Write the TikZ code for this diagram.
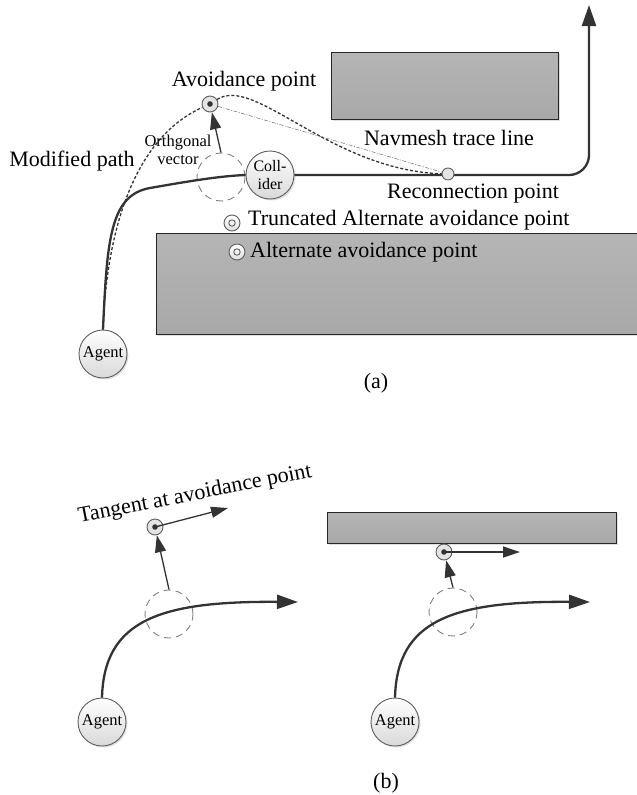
\documentclass[tikz,border=0pt]{standalone}
\usepackage{fontspec}
\setmainfont{Liberation Serif}
\usetikzlibrary{arrows.meta,shadows}
\definecolor{cline}{HTML}{333333}
\definecolor{cedge}{HTML}{5E5E5E}
\definecolor{cring}{HTML}{E4E4E4}
\newcommand{\fnbig}{\fontsize{22}{24}\selectfont}
\newcommand{\fnsmall}{\fontsize{16.5}{18}\selectfont}

\begin{document}
\begin{tikzpicture}[x=1pt, y=-1pt,
  route/.style  = {line width=2.3pt, draw=cline},
  tip/.style    = {-{Triangle[length=21pt, width=14pt]}},
  arr/.style    = {-{Triangle[length=17pt, width=11pt]}, line width=1.3pt, draw=cline},
  mod/.style    = {line width=1.3pt, draw=cline, dash pattern=on 3pt off 2pt},
  trace/.style  = {line width=0.5pt, draw=gray!80!black,
                   dash pattern=on 4pt off 1.5pt on 1pt off 1.5pt},
  ball/.style   = {circle, minimum size=48pt, inner sep=0pt, draw=cedge, line width=0.9pt,
                   top color=white, bottom color=gray!30, font=\fnsmall, align=center,
                   drop shadow={opacity=0.25, shadow xshift=1.5pt, shadow yshift=-1.5pt}},
  ghost/.style  = {circle, minimum size=48pt, inner sep=0pt, draw=gray, line width=0.9pt,
                   dash pattern=on 7pt off 5pt},
  avoid/.style  = {circle, minimum size=16pt, inner sep=0pt, draw=cedge, line width=0.9pt,
                   fill=cring, path picture={\fill[cline]
                   (path picture bounding box.center) circle (2.8pt);}},
  alt/.style    = {circle, minimum size=16pt, inner sep=0pt, draw=cedge, line width=0.9pt,
                   top color=white, bottom color=gray!25, path picture={\draw[cedge, line width=0.9pt]
                   (path picture bounding box.center) circle (3.2pt);}},
  rejoin/.style = {circle, minimum size=12pt, inner sep=0pt, draw=cedge, line width=0.9pt, fill=cring},
  wall/.style   = {rectangle, inner sep=0pt, draw=black!85, line width=1pt,
                   top color=gray!58, bottom color=gray!68,
                   drop shadow={opacity=0.25, shadow xshift=1.5pt, shadow yshift=-1.5pt}},
  lbl/.style    = {font=\fnbig, inner sep=0pt}
]
\useasboundingbox (0,0) rectangle (637,795);

%% ── (a) obstacles ─────────────────────────────────────────────────────────
\node[wall, minimum width=227pt, minimum height=67pt]  (wtop) at (444.5, 85.5) {};
\node[wall, minimum width=486pt, minimum height=101pt] (wlow) at (399, 283.5) {};

%% ── (a) agent, collider, ghost ────────────────────────────────────────────
\node[ball]  (agA)  at (103, 354) {Agent};
\node[ball, font=\fontsize{16}{18}\selectfont] (colA) at (270, 175) {Coll-\\ider};
\node[ghost] (ghA)  at (221, 177) {};
\coordinate  (exitA) at (589, 5);

% agent -> collider -> exit
\draw[route]
  (agA.north) .. controls (107,240) and (110,195) .. (150,188)
              .. controls (190,181) and (220,176) .. (colA.west);
\draw[route, tip, rounded corners=20pt] (colA.east) -| (exitA);

%% ── (a) points ────────────────────────────────────────────────────────────
\node[rejoin] (rcp)  at (448, 174) {};
\node[avoid]  (avA)  at (210, 104) {};
\node[alt]    (talt) at (232, 223) {};
\node[alt]    (alt)  at (237, 252) {};

% orthogonal vector
\draw[arr] (ghA.north) -- (avA);

% modified path
\draw[mod] (agA.north) .. controls (106,240) and (130,140) .. (avA);
\draw[mod] (avA) .. controls (255,75) and (330,170) .. (rcp);

% navmesh trace line
\draw[trace] (avA) -- (rcp);

%% ── (a) labels ────────────────────────────────────────────────────────────
\node[lbl, anchor=base]      at (244, 86)  {Avoidance point};
\node[lbl, anchor=base]      at (449, 145) {Navmesh trace line};
\node[lbl, anchor=base]      at (473, 198) {Reconnection point};
\node[lbl, anchor=base]      at (72, 166)  {Modified path};
\node[lbl, anchor=base west] at (248, 225) {Truncated Alternate avoidance point};
\node[lbl, anchor=base west] at (250, 257) {Alternate avoidance point};
\node[font=\fnsmall, inner sep=0pt, align=center] at (178, 150) {Orthgonal\\vector};
\node[lbl, anchor=base]      at (376, 388) {(a)};

%% ── (b) left ──────────────────────────────────────────────────────────────
\node[ball]  (agB) at (102, 722) {Agent};
\node[ghost] (ghB) at (169, 614) {};
\node[avoid] (avB) at (155, 527) {};
\coordinate  (endB) at (298, 602);
\coordinate  (tanB) at (228, 508);

\draw[route, tip] (agB.north) .. controls (104,620) and (160,601) .. (endB);
\draw[arr] (ghB.north) -- (avB);
\draw[arr] (avB.center) -- (tanB);
\node[lbl, anchor=base, rotate=11] at (196, 500) {Tangent at avoidance point};

%% ── (b) right ─────────────────────────────────────────────────────────────
\node[wall, minimum width=289pt, minimum height=31pt] (wB) at (471.5, 527.5) {};
\node[ball]  (agC) at (395, 722) {Agent};
\node[ghost] (ghC) at (453, 612) {};
\node[avoid] (avC) at (444, 552) {};
\coordinate  (endC) at (590, 602);
\coordinate  (tanC) at (520, 552);

\draw[route, tip] (agC.north) .. controls (397,620) and (453,601) .. (endC);
\draw[arr] (ghC.north) -- (avC);
\draw[arr] (avC.center) -- (tanC);
\node[lbl, anchor=base] at (386, 788) {(b)};

\end{tikzpicture}
\end{document}
